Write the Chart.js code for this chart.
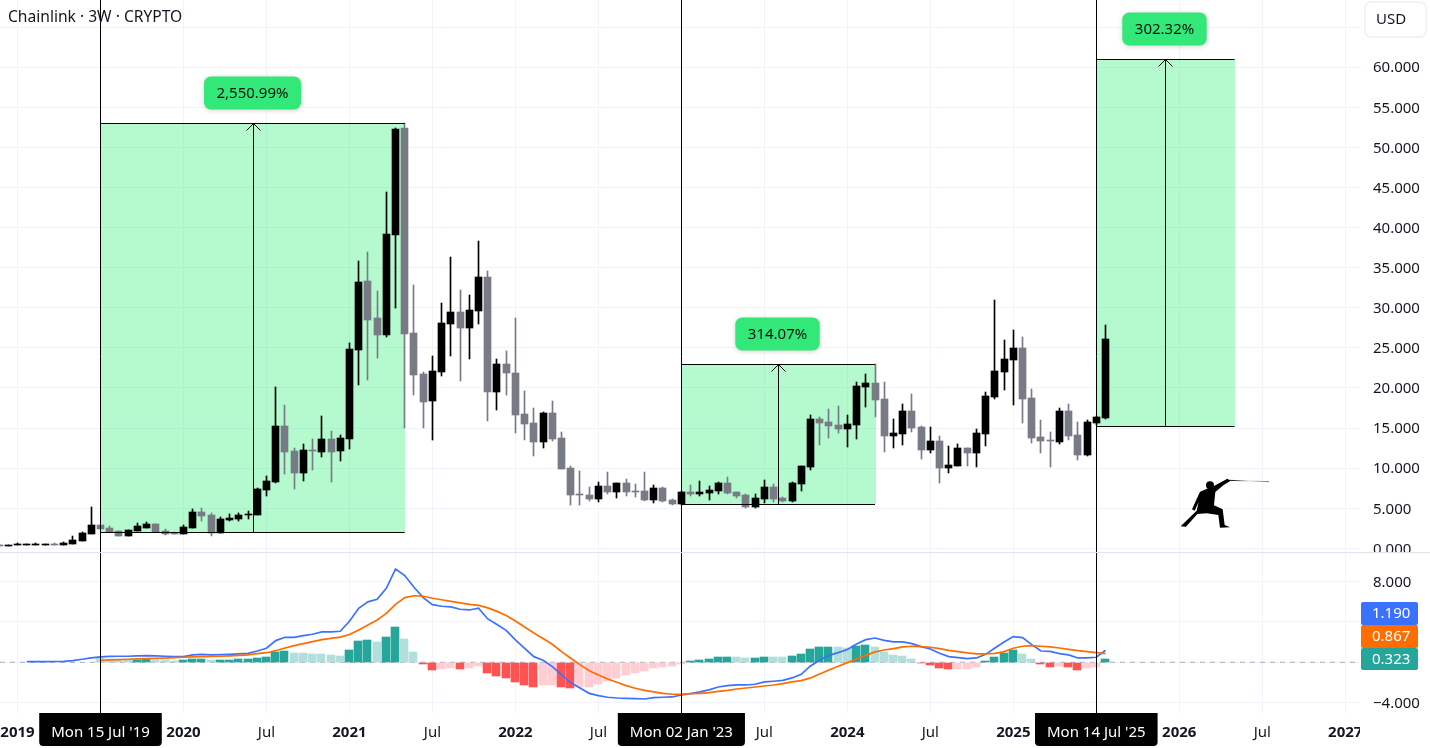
<!DOCTYPE html>
<html>
<head>
<meta charset="utf-8">
<title>Chainlink 3W</title>
<script src="https://cdn.jsdelivr.net/npm/chart.js@4"></script>
<style>
  html, body { margin: 0; padding: 0; background: #fff; overflow: hidden; }
  canvas { display: block; }
</style>
</head>
<body>
<canvas id="chart" width="1430" height="748"></canvas>
<script>
/* -----------data (one entry per 3W bar)------------- */
const opens = [
  .45,.33,.45,.46,.48,.44,.55,.45,.58,.96,1.84,2.92,2.55,2.17,1.58,2.2,2.6,3.05,2.17,1.97,
  1.84,2.58,4.54,4.16,1.96,3.54,3.67,4.16,4.16,7.28,8.28,15.26,12.14,9.4,12.27,12.02,13.64,12.14,13.64,24.74,
  33.34,28.73,26.61,39.08,52.42,26.86,21.75,18.38,22,28,29.48,27.48,29.6,33.84,19.5,23,21.87,16.76,15.64,13.27,
  16.88,13.77,10.03,6.78,6.66,6.16,7.78,7.04,8.16,7.16,7.16,6.04,7.53,6.04,5.54,7.04,6.78,6.91,7.16,8.16,
  7.04,6.66,5.16,6.16,7.66,6.28,5.91,8.03,10.15,16.14,15.76,15.39,14.89,15.39,20.13,20.62,18.63,14,14.26,17.13,
  15.14,12.27,13.39,10.03,10.27,12.52,11.9,14.26,18.88,22,23.49,24.99,18.75,13.89,13.52,13.27,17.13,14.14,11.65,15.64,
  16.26
];
const highs = [
  .5,.48,.62,.55,.68,.55,.66,.8,1.55,2,5.16,2.95,2.8,2.2,2.25,3.15,3.3,3.05,2.42,2,
  2.92,4.91,5.04,4.41,3.92,4.29,4.41,4.66,7.5,9.03,20.12,17.88,12.52,13.02,13.64,16.51,14.64,14.14,25.6,35.84,
  36.96,32.1,44.44,52.42,53,32.84,22,23.99,30.6,36.34,32.2,31.6,38.33,34.6,23.62,24.6,28.73,19.63,17.51,17,
  18.38,14.52,10.28,9.65,7.66,8.28,9.53,8.16,8.66,8.03,9.53,7.91,7.66,6.16,7.1,7.91,8.41,7.78,8.28,8.91,
  7.04,6.78,6.78,8.53,8.03,6.41,8.28,10.28,16.63,16.38,17.38,17.76,16.63,20.75,21.75,22.99,20.75,16.14,18,19.25,
  15.26,15.14,14.02,12.77,13.02,12.52,14.89,19.5,30.97,25.98,27.23,26.36,19.88,16,14.51,17.5,18,15.76,16,16.5,
  27.86
];
const lows = [
  .3,.28,.4,.4,.42,.4,.42,.42,.5,.9,1.84,2.4,2.05,1.58,1.58,2.15,2.54,2.05,1.67,1.84,
  1.84,2.55,3.42,1.58,1.96,3.42,3.42,3.67,4.16,6.53,8.16,9.28,7.41,8.4,9.77,11.4,8.28,10.9,12.4,20.37,
  21,23.74,26.36,29.97,15.01,19.13,15.01,13.52,21.5,24,20.9,23.62,27.98,15.89,17.26,19.13,14.39,13.52,11.52,12.52,
  13.39,9.9,5.41,5.41,5.91,5.79,6.79,6.28,6.53,6.41,5.91,5.66,5.79,5.41,5.45,6.53,6.53,6,6.78,6.78,
  6.28,5.04,5.04,5.66,5.79,5.79,5.79,7.16,9.78,12.89,13.77,14.39,12.64,13.64,17.63,16.38,12.02,12.52,12.89,14.51,
  11.15,11.9,8.16,9.4,10.27,10.27,10.15,12.77,18.63,19.75,17.88,15.64,13.14,11.9,10.15,13.02,13.52,11,11.52,15.4,
  16.14
];
const closes = [
  .32,.45,.58,.56,.6,.55,.42,.66,1.04,1.92,2.92,2.46,2.05,1.58,2.25,2.8,3,2.05,1.84,1.84,
  2.63,4.54,4.04,1.96,3.67,3.79,4.16,4.25,7.41,8.4,15.26,12.02,9.4,12.27,12.14,13.64,12.02,13.77,24.86,33.2,
  28.48,26.61,39.2,52.29,26.73,21.62,18.25,22.12,28.11,29.48,27.48,29.73,33.84,19.5,23,21.87,16.64,15.51,13.27,16.88,
  13.64,9.9,6.66,6.66,6.16,7.78,7.04,8.16,7.04,7.04,6.04,7.53,5.91,5.54,7.04,6.78,7.04,7.28,8.16,6.91,
  6.54,5.16,6.28,7.66,6.16,5.91,8.16,10.28,16.14,15.64,15.26,14.89,15.51,20.25,20.62,18.5,14,14.39,17.13,15,
  12.27,13.39,10.03,10.4,12.52,11.9,14.39,19,22.12,23.62,24.99,18.63,13.77,13.39,13.39,17.13,14,11.65,15.76,16.38,
  26.11
];
const macdLine = [
  null,null,null,.07,.07,.07,.08,.1,.16,.3,.43,.53,.58,.6,.6,.63,.66,.63,.6,.56,
  .56,.73,.79,.73,.76,.79,.83,.89,1.12,1.39,2.15,2.48,2.48,2.65,2.78,3.01,3.01,3.08,4.07,5.36,
  5.99,6.25,7.34,9.26,8.6,7.44,6.42,5.72,5.56,5.49,5.26,5.19,5.36,4.3,3.74,3.17,2.22,1.39,.56,.2,
  -.43,-1.22,-2.02,-2.55,-3.08,-3.31,-3.47,-3.54,-3.57,-3.6,-3.64,-3.51,-3.47,-3.44,-3.24,-3.11,-2.94,-2.74,-2.45,-2.31,
  -2.25,-2.25,-2.18,-1.95,-1.88,-1.79,-1.55,-1.19,-.36,.2,.69,.96,1.26,1.82,2.25,2.41,2.18,2.02,2.02,1.85,
  1.55,1.32,.89,.56,.46,.36,.43,.79,1.42,2.02,2.55,2.45,1.75,1.12,1.09,.86,.73,.43,.43,.5,
  1.19
];
const signalLine = [
  null,null,null,null,null,null,null,null,null,null,null,.2,.23,.27,.3,.33,.36,.39,.42,.46,
  .5,.53,.56,.58,.6,.63,.68,.74,.86,.95,1.15,1.42,1.65,1.85,2.05,2.25,2.38,2.5,2.75,3.2,
  3.7,4.2,4.85,5.75,6.42,6.6,6.55,6.35,6.2,6.05,5.9,5.75,5.65,5.4,5.05,4.65,4.1,3.5,2.9,2.35,
  1.79,1.06,.4,-.23,-.83,-1.26,-1.65,-1.98,-2.31,-2.58,-2.78,-2.94,-3.08,-3.17,-3.17,-3.11,-3.08,-3.01,-2.88,-2.78,
  -2.65,-2.55,-2.45,-2.35,-2.25,-2.12,-1.95,-1.82,-1.55,-1.16,-.76,-.4,-.03,.33,.69,1.03,1.22,1.36,1.52,1.59,
  1.55,1.49,1.36,1.19,1.06,.93,.83,.83,.89,1.06,1.39,1.59,1.65,1.59,1.52,1.42,1.29,1.16,1.06,.96,
  .867
];
const histogram = [
  null,null,null,null,null,null,null,null,null,null,null,.4,.3,.22,.18,.26,.28,.25,.2,.17,
  .2,.28,.29,.2,.21,.22,.3,.31,.47,.56,1.05,1.12,.95,.93,.85,.83,.73,.63,1.22,2.12,
  2.22,2.02,2.51,3.5,2.31,1.03,-.17,-.76,-.66,-.56,-.66,-.56,-.36,-1.06,-1.36,-1.55,-1.95,-2.25,-2.45,-2.28,
  -2.26,-2.45,-2.55,-2.45,-2.44,-2.15,-1.85,-1.55,-1.25,-1.06,-.86,-.56,-.46,-.33,-.13,.13,.23,.33,.53,.54,
  .53,.43,.44,.53,.52,.51,.63,.83,1.32,1.52,1.53,1.52,1.42,1.62,1.72,1.52,1.03,.73,.63,.33,
  -.07,-.26,-.56,-.66,-.65,-.64,-.46,.13,.53,.93,1.22,.83,.33,-.17,-.46,-.36,-.46,-.76,-.56,-.46,
  .323
];
const xTickBars = [2, 20, 29, 38, 47, 56, 65, 74, 83, 92, 101, 110, 119, 128, 137, 146];
const xTickLabels = ['2019', '2020', 'Jul', '2021', 'Jul', '2022', 'Jul', '2023', 'Jul', '2024', 'Jul', '2025', 'Jul', '2026', 'Jul', '2027'];
/* price ranges measured on the chart */
const rangeStart = [11, 74, 119];
const rangeEnd = [44, 95, 134];
const rangeLow = [2.0, 5.54, 15.22];
const rangeHigh = [53, 22.99, 60.99];
const rangeLabels = ['2,550.99%', '314.07%', '302.32%'];
const markerBars = [11, 74, 119];
const markerLabels = ["Mon 15 Jul '19", "Mon 02 Jan '23", "Mon 14 Jul '25"];
const lastValues = ['1.190', '0.867', '0.323'];

/* -----------colours------------- */
const UP = '#000000', DOWN = '#787b86', GRID = '#f0f3fa', TEXT = '#131722';
const BLUE = '#3a72ff', ORANGE = '#ff6d00', TEAL = '#26a69a';
const FONT = '"Noto Sans"';

function histColor(v, i) {
  const rising = i > 0 && histogram[i - 1] !== null && v > histogram[i - 1];
  if (v >= 0) return rising ? '#26a69a' : '#b2dfdb';
  return rising ? '#ffcdd2' : '#ff5252';
}

const bars = opens.map((o, i) => i);
const candleColors = bars.map(i => closes[i] >= opens[i] ? UP : DOWN);

/* -----------drawing on top of the scales-------------- */
function roundBox(ctx, x, y, w, h, r) {
  ctx.beginPath();
  ctx.roundRect(x, y, w, h, r);
}

const overlay = {
  id: 'overlay',
  // snap bars to whole pixels so candles and wicks stay crisp
  afterDatasetsUpdate(chart) {
    chart.data.datasets.forEach((ds, d) => {
      if (ds.type !== 'bar') return;
      chart.getDatasetMeta(d).data.forEach(el => {
        el.x = Math.floor(el.x) + (ds.barThickness % 2 ? .5 : 0);
        el.y = Math.round(el.y);
        el.base = Math.round(el.base);
        if (el.y === el.base && ds.minBarLength) el.base += 1;
      });
    });
  },
  beforeDatasetsDraw(chart) {
    const { ctx, scales: { x, y } } = chart;
    ctx.save();
    ctx.fillStyle = 'rgba(46,240,120,0.36)';
    rangeStart.forEach((s, k) => {
      const l = x.getPixelForValue(s), r = x.getPixelForValue(rangeEnd[k]);
      const t = y.getPixelForValue(rangeHigh[k]), b = y.getPixelForValue(rangeLow[k]);
      ctx.fillRect(Math.floor(l), t, Math.round(r - l) + 1, b - t);
    });
    ctx.restore();
  },
  afterDatasetsDraw(chart) {
    const { ctx, chartArea, scales: { x, y } } = chart;
    ctx.save();
    // covers for labels cut by the pane edge
    ctx.fillStyle = '#fff';
    ctx.fillRect(chartArea.right, 552, 70, 20);
    ctx.fillRect(chartArea.right, chartArea.bottom, 70, 35);

    ctx.strokeStyle = '#000';
    ctx.lineWidth = 1;
    rangeStart.forEach((s, k) => {
      const l = x.getPixelForValue(s), r = x.getPixelForValue(rangeEnd[k]);
      const t = Math.round(y.getPixelForValue(rangeHigh[k])) + .5, b = Math.round(y.getPixelForValue(rangeLow[k])) + .5;
      const m = Math.round((l + r) / 2) + .5;
      ctx.beginPath();
      ctx.moveTo(l, t); ctx.lineTo(r, t);
      ctx.moveTo(l, b); ctx.lineTo(r, b);
      ctx.moveTo(m, b); ctx.lineTo(m, t);
      ctx.moveTo(m - 7, t + 7); ctx.lineTo(m, t); ctx.lineTo(m + 7, t + 7);
      ctx.stroke();

      ctx.font = '15px ' + FONT;
      const w = ctx.measureText(rangeLabels[k]).width + 25;
      ctx.save();
      ctx.shadowColor = 'rgba(0,0,0,.18)';
      ctx.shadowBlur = 5;
      ctx.shadowOffsetY = 1;
      ctx.fillStyle = '#32e878';
      roundBox(ctx, m - w / 2 - 1, t - 47, w, 33, 7);
      ctx.fill();
      ctx.restore();
      ctx.fillStyle = '#0f0f0f';
      ctx.textAlign = 'center';
      ctx.textBaseline = 'middle';
      ctx.fillText(rangeLabels[k], m - 1, t - 30);
    });

    markerBars.forEach(b => {
      const p = Math.floor(x.getPixelForValue(b)) + .5;
      ctx.beginPath();
      ctx.moveTo(p, 0); ctx.lineTo(p, chartArea.bottom);
      ctx.stroke();
    });

    // fencer
    ctx.translate(1090, 440);
    ctx.scale(1 / 3, 1 / 3);
    const sword = ctx.createLinearGradient(420, 0, 537, 0);
    sword.addColorStop(0, '#000');
    sword.addColorStop(.5, '#ddd');
    sword.addColorStop(1, '#777');
    ctx.strokeStyle = sword;
    ctx.lineWidth = 3;
    ctx.beginPath(); ctx.moveTo(418, 121); ctx.lineTo(537, 125); ctx.stroke();
    ctx.fillStyle = '#000';
    ctx.beginPath();
    ctx.arc(360, 136, 12, 0, Math.PI * 2);
    ctx.fill();
    ctx.beginPath();
    [[422, 122], [400, 136], [376, 156], [372, 196], [398, 208], [404, 255], [420, 262], [390, 263], [385, 225],
     [350, 220], [322, 222], [288, 260], [272, 259], [320, 212], [326, 186], [314, 212], [306, 208], [330, 155],
     [348, 148], [372, 138], [412, 116]].forEach(p => ctx.lineTo(p[0], p[1]));
    ctx.closePath();
    ctx.fill();
    ctx.restore();
  },
  afterDraw(chart) {
    const { ctx, chartArea, scales: { x } } = chart;
    ctx.save();
    ctx.textBaseline = 'middle';

    ctx.fillStyle = '#e0e3eb';
    ctx.fillRect(0, 552, 1430, 1);

    ctx.font = '15.6px ' + FONT;
    ctx.fillStyle = TEXT;
    ctx.textAlign = 'left';
    ctx.fillText('Chainlink \u00b7 3W \u00b7 CRYPTO', 8, 18);

    // currency button
    ctx.strokeStyle = '#f0f3fa';
    ctx.lineWidth = 2;
    roundBox(ctx, 1365, 2, 61, 35, 6);
    ctx.stroke();
    ctx.textAlign = 'center';
    ctx.font = '15px ' + FONT;
    ctx.fillText('USD', 1391, 20);

    // last values of the MACD pane
    [BLUE, ORANGE, TEAL].forEach((c, k) => {
      const top = 602 + k * 23;
      ctx.fillStyle = c;
      roundBox(ctx, 1361, top, 57, k === 2 ? 22 : 23, 2);
      ctx.fill();
      ctx.fillStyle = '#fff';
      ctx.textAlign = 'left';
      ctx.fillText(lastValues[k], 1372, top + 12);
    });

    // date labels of the vertical markers
    ctx.textAlign = 'center';
    markerBars.forEach((b, k) => {
      const p = x.getPixelForValue(b);
      const w = ctx.measureText(markerLabels[k]).width + 24;
      ctx.fillStyle = '#000';
      roundBox(ctx, p - w / 2, chartArea.bottom, w, 33, [0, 0, 4, 4]);
      ctx.fill();
      ctx.fillStyle = '#fff';
      ctx.fillText(markerLabels[k], p, chartArea.bottom + 20);
    });
    ctx.restore();
  }
};

/* -----------chart-------------- */
const ctx = document.getElementById('chart').getContext('2d');
const xFirst = 0.1, xLast = 147.6;

function fixWidth(scale) {
  scale.width = 70;
  scale.paddingTop = 0;
  scale.paddingBottom = 0;
}

new Chart(ctx, {
  data: {
    datasets: [
      {
        type: 'line', yAxisID: 'y2', order: 4, borderColor: '#a9acb5', borderWidth: 1, borderDash: [5, 5],
        pointRadius: 0, data: [{ x: xFirst, y: 0 }, { x: xLast, y: 0 }]
      },
      {
        type: 'bar', yAxisID: 'y', order: 3, grouped: false, barThickness: 1,
        backgroundColor: candleColors, data: bars.map(i => ({ x: i, y: [lows[i], highs[i]] }))
      },
      {
        type: 'bar', yAxisID: 'y', order: 2, grouped: false, barThickness: 7, minBarLength: 1,
        backgroundColor: candleColors, data: bars.map(i => ({ x: i, y: [opens[i], closes[i]] }))
      },
      {
        type: 'bar', yAxisID: 'y2', order: 2, grouped: false, barThickness: 8,
        backgroundColor: histogram.map(histColor), data: bars.map(i => ({ x: i, y: histogram[i] }))
      },
      {
        type: 'line', yAxisID: 'y2', order: 1, borderColor: BLUE, borderWidth: 1.7, pointRadius: 0,
        data: bars.map(i => ({ x: i, y: macdLine[i] }))
      },
      {
        type: 'line', yAxisID: 'y2', order: 0, borderColor: ORANGE, borderWidth: 1.7, pointRadius: 0,
        data: bars.map(i => ({ x: i, y: signalLine[i] }))
      }
    ]
  },
  options: {
    responsive: false,
    devicePixelRatio: 1,
    animation: false,
    layout: { padding: 0 },
    plugins: { legend: { display: false }, tooltip: { enabled: false } },
    scales: {
      x: {
        type: 'linear', min: xFirst, max: xLast, offset: false,
        grid: { color: GRID, drawTicks: false, offset: false },
        border: { display: false },
        afterBuildTicks(scale) { scale.ticks = xTickBars.map(v => ({ value: v })); },
        afterFit(scale) { scale.height = 35; scale.paddingLeft = 0; scale.paddingRight = 0; },
        ticks: {
          autoSkip: false, maxRotation: 0, padding: 11, color: TEXT,
          callback: v => xTickLabels[xTickBars.indexOf(v)],
          font: c => ({ family: FONT, size: 15, weight: xTickLabels[c.index] === 'Jul' ? 'normal' : 'bold' })
        }
      },
      y: {
        position: 'right', stack: 'panes', stackWeight: 552, min: -0.45, max: 68.38,
        grid: { color: GRID, drawTicks: false },
        border: { display: false },
        afterFit: fixWidth,
        ticks: {
          stepSize: 5, includeBounds: false, crossAlign: 'near', padding: 13, labelOffset: 1, color: TEXT,
          font: { family: FONT, size: 15 }, callback: v => v > 60 ? '' : v.toFixed(3)
        }
      },
      y2: {
        position: 'right', stack: 'panes', stackWeight: 161, min: -5.03, max: 10.94,
        grid: { color: GRID, drawTicks: false },
        border: { display: false },
        afterFit: fixWidth,
        ticks: {
          z: 1, stepSize: 4, includeBounds: false, crossAlign: 'near', padding: 13, labelOffset: 1, color: TEXT,
          font: { family: FONT, size: 15 }, callback: v => v.toFixed(3).replace('-', '\u2212')
        }
      }
    }
  },
  plugins: [overlay]
});
</script>
</body>
</html>
